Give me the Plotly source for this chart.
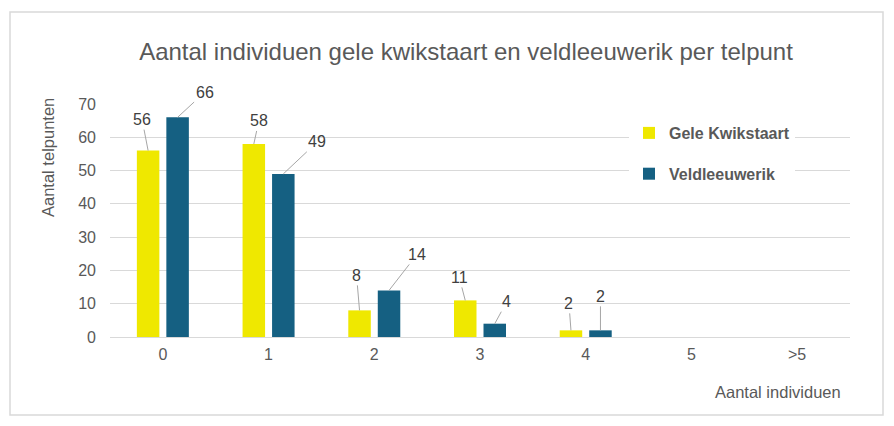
import plotly.graph_objects as go

categories = ["0", "1", "2", "3", "4", "5", ">5"]
gele_kwikstaart = [56, 58, 8, 11, 2, None, None]
veldleeuwerik = [66, 49, 14, 4, 2, None, None]
series_names = ["Gele Kwikstaart", "Veldleeuwerik"]
y_ticks = [0, 10, 20, 30, 40, 50, 60, 70]

title_text = "Aantal individuen gele kwikstaart en veldleeuwerik per telpunt"
y_title = "Aantal telpunten"
x_title = "Aantal individuen"

YELLOW = "#EFE800"
BLUE = "#156082"
GRID = "#D9D9D9"
TXT = "#595959"
LBL = "#404040"
FONT = "Liberation Sans"

# label leader offsets (pixels) per series, per category
off_yellow = [(-6, -31), (5, -23), (-3, -35), (-6, -23), (-2, -27)]
off_blue = [(27, -25), (34, -32), (28, -36), (12, -22), (0, -34)]

fig = go.Figure()
fig.add_trace(go.Bar(x=categories, y=gele_kwikstaart, name=series_names[0],
                     marker=dict(color=YELLOW, line=dict(width=0)),
                     legendgroup="a"))
fig.add_trace(go.Bar(x=categories, y=veldleeuwerik, name=series_names[1],
                     marker=dict(color=BLUE, line=dict(width=0)),
                     legendgroup="b"))

BAR_SHIFT = 14.75
for vals, offs, shift in [(gele_kwikstaart, off_yellow, -BAR_SHIFT), (veldleeuwerik, off_blue, BAR_SHIFT)]:
    for i, v in enumerate(vals):
        if v is None:
            continue
        ax, ay = offs[i]
        fig.add_annotation(x=categories[i], y=v, xref="x", yref="y", xshift=shift,
                           text=str(v), showarrow=True, arrowhead=0, arrowwidth=1,
                           arrowcolor="#A6A6A6", ax=ax, ay=ay, standoff=0,
                           font=dict(family=FONT, size=16, color=LBL))

W, H = 894, 426
L, R, T, B = 110, 44, 104, 89
pw, ph = W - L - R, H - T - B

def px(x):
    return (x - L) / pw

def py(y):
    return (H - B - y) / ph

fig.add_shape(type="rect", xref="paper", yref="paper",
              x0=px(10), x1=px(883), y0=py(415), y1=py(12),
              line=dict(color="#D9D9D9", width=1.5), fillcolor="rgba(0,0,0,0)", layer="below")

fig.add_annotation(xref="paper", yref="paper", x=px(48), y=py(158), text=y_title,
                   textangle=-90, showarrow=False, xanchor="center", yanchor="middle",
                   font=dict(family=FONT, size=16.5, color=TXT))
fig.add_annotation(xref="paper", yref="paper", x=px(843), y=py(392), text=x_title,
                   xanchor="right", yanchor="middle", showarrow=False,
                   font=dict(family=FONT, size=16.5, color=TXT))

fig.update_layout(
    width=W, height=H,
    margin=dict(l=L, r=R, t=T, b=B),
    paper_bgcolor="white", plot_bgcolor="white",
    title=dict(text=title_text, x=466 / W, xanchor="center", y=1 - 52 / H, yanchor="middle",
               font=dict(family=FONT, size=24, color=TXT)),
    barmode="group", bargap=0.442, bargroupgap=0.237,
    showlegend=True,
    legend=dict(x=px(629), y=py(116), xanchor="left", yanchor="top",
                bgcolor="white", tracegroupgap=17, traceorder="grouped",
                font=dict(family=FONT, size=16, color=TXT, weight="bold")),
    xaxis=dict(type="category", categoryorder="array", categoryarray=categories,
               showgrid=False, showline=True, linecolor=GRID, linewidth=1,
               ticks="", ticklabelstandoff=3, tickfont=dict(family=FONT, size=16, color=TXT)),
    yaxis=dict(range=[0, 70], tickvals=y_ticks, showgrid=True, gridcolor=GRID, gridwidth=1,
               zeroline=False, showline=False, ticks="", ticklabelstandoff=13,
               tickfont=dict(family=FONT, size=16, color=TXT)),
)

fig.write_html("out.html")
